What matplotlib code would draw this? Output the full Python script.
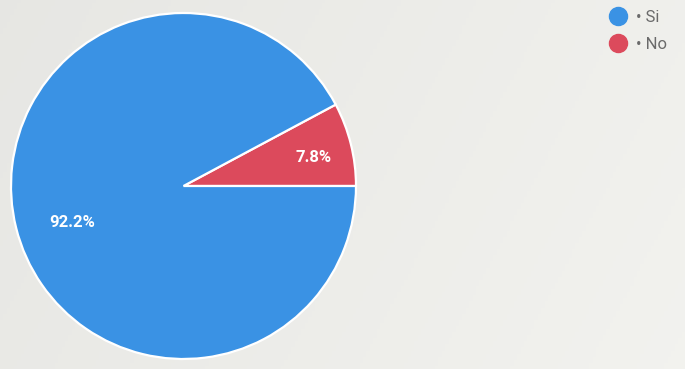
import numpy as np
import matplotlib
matplotlib.use("Agg")
import matplotlib.pyplot as plt
from matplotlib.lines import Line2D

# Survey answers
labels = ["Si", "No"]
shares = [92.2, 7.8]
colors = ["#3a92e4", "#dc4a5c"]

fig = plt.figure(figsize=(6.85, 3.69), dpi=100)
fig.patch.set_facecolor("#ecece9")

# soft background shading
bg = fig.add_axes([0, 0, 1, 1], zorder=-1)
gx = np.linspace(0, 1, 200)
gy = np.linspace(0, 1, 120)
X, Y = np.meshgrid(gx, gy)
shade = 0.915 + 0.035 * X - 0.01 * Y
bg.imshow(np.dstack([shade, shade, shade * 0.985]), extent=[0, 1, 0, 1],
          aspect="auto", origin="lower")
bg.axis("off")

ax = fig.add_axes([11 / 685, 10 / 369, 345 / 685, 346 / 369])
# "No" slice starts at 3 o'clock and runs counter-clockwise
wedges, _, autotexts = ax.pie(
    shares[::-1], colors=colors[::-1], startangle=0, counterclock=True,
    autopct="%.1f%%", pctdistance=0.7,
    wedgeprops=dict(edgecolor="white", linewidth=1.6),
    textprops=dict(color="white", fontsize=12, fontweight="bold",
                   family="Roboto"))
ax.set_xlim(-1.0, 1.0)
ax.set_ylim(-1.0, 1.0)
ax.set_aspect("auto")

# place the percentage labels near each slice's bisector
placement = [(0.77, -1.5), (0.68, 4.0)]  # (radius, angle shift in degrees)
for w, t, (d, shift) in zip(wedges, autotexts, placement):
    mid = np.deg2rad((w.theta1 + w.theta2) / 2 + shift)
    t.set_position((d * np.cos(mid), d * np.sin(mid)))

# legend
handles = [Line2D([0], [0], marker="o", linestyle="none", markersize=13,
                  markerfacecolor=c, markeredgecolor=c) for c in colors]
leg = fig.legend(handles, ["\u2022 " + l for l in labels],
                 loc="upper left", bbox_to_anchor=(586 / 685, 1 + 5 / 369),
                 frameon=False, handletextpad=0.1, labelspacing=0.7,
                 prop=dict(family="Roboto", size=12))
for txt in leg.get_texts():
    txt.set_color("#6a6a6a")

fig.savefig("out.png", dpi=100, facecolor=fig.get_facecolor())
